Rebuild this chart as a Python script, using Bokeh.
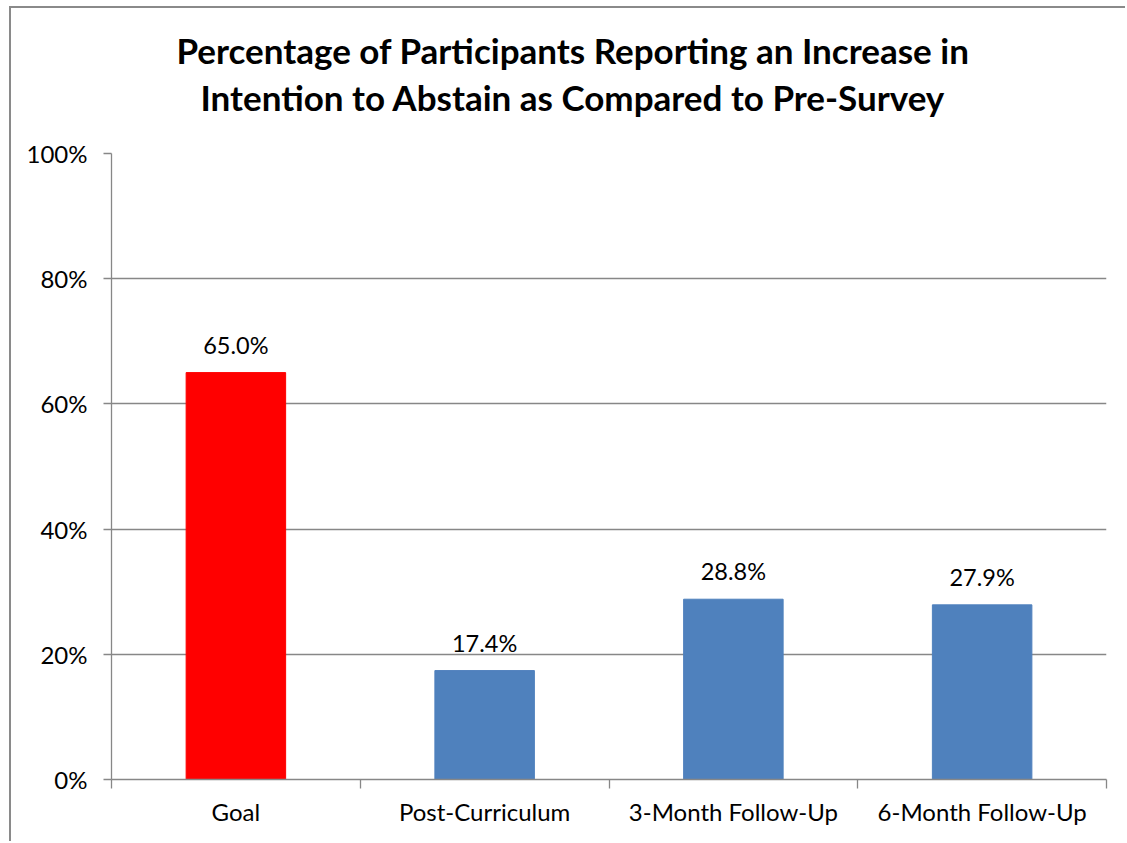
from bokeh.plotting import figure
from bokeh.models import FixedTicker, PrintfTickFormatter, Range1d, ColumnDataSource, Title
from bokeh.core.properties import value
from bokeh.embed import file_html
from bokeh.resources import INLINE

title_lines = ["Percentage of Participants Reporting an Increase in",
               "Intention to Abstain as Compared to Pre-Survey"]
categories = ["Goal", "Post-Curriculum", "3-Month Follow-Up", "6-Month Follow-Up"]
values = [65.0, 17.4, 28.8, 27.9]
colors = ["#FF0000", "#4F81BD", "#4F81BD", "#4F81BD"]
y_ticks = [0, 20, 40, 60, 80, 100]

FONT = "Lato"
GRAY = "#878787"

xs = [i + 0.5 for i in range(len(categories))]
src = ColumnDataSource(dict(x=xs, top=values, color=colors,
                            label=[f"{v:.1f}%" for v in values]))

p = figure(width=1116, height=835, output_backend="svg", toolbar_location=None,
           x_range=Range1d(0, len(categories)), y_range=Range1d(0, 100),
           min_border_left=100, min_border_right=21, min_border_top=145,
           min_border_bottom=64)
p.styles = {"border-left": "2px solid #8a8a8a", "border-top": "2px solid #8a8a8a",
            "margin-left": "9px", "margin-top": "6px"}


def style_title(t, bottom_pad):
    t.align = "center"
    t.text_font = FONT
    t.text_font_size = "35px"
    t.text_font_style = "bold"
    t.text_color = "black"
    t.standoff = 0
    t.text_line_height = 1.12
    t.padding = dict(left=0, right=72, top=0, bottom=bottom_pad)


# the added Title sits next to the frame (line 2); p.title is stacked above (line 1)
p.title.text = title_lines[0]
style_title(p.title, 3)
t2 = Title(text=title_lines[1])
style_title(t2, 36)
p.add_layout(t2, "above")

p.vbar(x="x", top="top", width=0.4, color="color", source=src)
p.text(x="x", y="top", text="label", source=src, text_align="center",
       text_baseline="alphabetic", y_offset=-28, text_font=value(FONT),
       text_font_size="23.5px", text_color="black")

p.outline_line_color = None
p.xgrid.grid_line_color = None
p.ygrid.grid_line_color = GRAY
p.ygrid.grid_line_width = 1.3
p.ygrid.ticker = FixedTicker(ticks=y_ticks)

ya = p.yaxis[0]
ya.ticker = FixedTicker(ticks=y_ticks)
ya.formatter = PrintfTickFormatter(format="%d%%")
ya.axis_line_color = GRAY
ya.axis_line_width = 1.3
ya.major_tick_line_color = GRAY
ya.major_tick_line_width = 1.3
ya.major_tick_out = 8
ya.major_tick_in = 0
ya.minor_tick_line_color = None
ya.major_label_standoff = 16
ya.major_label_text_font = FONT
ya.major_label_text_font_size = "24px"
ya.major_label_text_color = "black"

xa = p.xaxis[0]
xa.ticker = FixedTicker(ticks=xs, minor_ticks=list(range(len(categories) + 1)))
xa.major_label_overrides = {x: c for x, c in zip(xs, categories)}
xa.axis_line_color = GRAY
xa.axis_line_width = 1.3
xa.major_tick_line_color = None
xa.major_tick_out = 0
xa.major_tick_in = 0
xa.minor_tick_line_color = GRAY
xa.minor_tick_line_width = 1.3
xa.minor_tick_out = 9
xa.minor_tick_in = 0
xa.major_label_standoff = 8
xa.major_label_text_font = FONT
xa.major_label_text_font_size = "24px"
xa.major_label_text_color = "black"

open("out.html", "w").write(file_html(p, INLINE))
